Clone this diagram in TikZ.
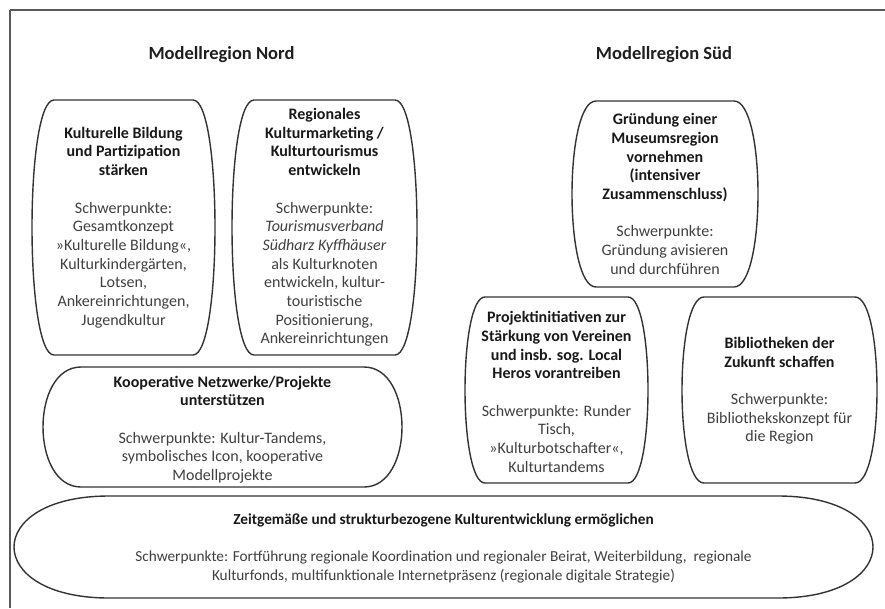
\documentclass[tikz,border=0pt]{standalone}
\usepackage{fontspec}
\setmainfont{Carlito}
\newcommand\barrelpath[5]{(#1+#5,#2) -- (#3-#5,#2) .. controls (#3+#5/3,#2) and (#3+#5/3,#4) .. (#3-#5,#4) -- (#1+#5,#4) .. controls (#1-#5/3,#4) and (#1-#5/3,#2) .. cycle}
\newcommand\tl[1]{\textbf{\textcolor{black!90}{#1}}}
\newcommand\bl[1]{\textcolor{black!75}{#1}}
\tikzset{
  boxline/.style={draw=black!80, line width=1.4pt},
  frameline/.style={draw=black!65, line width=1.3pt},
  txt/.style={align=center, inner sep=0pt, font=\fontsize{16}{18.7}\selectfont, text=black!75},
  txtwide/.style={txt, font=\fontsize{15.3}{18.7}\selectfont},
  head/.style={inner sep=0pt, font=\fontsize{18.5}{22}\selectfont\bfseries, text=black!88},
}
\begin{document}
\begin{tikzpicture}[x=1pt,y=-1pt]
\useasboundingbox (0,0) rectangle (885,608);
\fill[white] (0,0) rectangle (885,608);
% frame
\draw[frameline] (10,10) -- (885,10);
\draw[frameline] (10,10) -- (10,608);
% headings
\node[head] (hnord) at (221.5,55) {Modellregion Nord};
\node[head] (hsued) at (664,55) {Modellregion Süd};
% shapes
\draw[boxline] \barrelpath{32}{100}{215}{355}{22};
\draw[boxline] \barrelpath{232}{100}{417}{355}{22};
\draw[boxline] \barrelpath{43}{367}{402}{487}{38};
\draw[boxline] \barrelpath{572}{101}{758}{287}{24};
\draw[boxline] \barrelpath{465}{297}{648}{483}{20};
\draw[boxline] \barrelpath{682}{297}{877}{483}{22};
\draw[boxline] \barrelpath{14}{496}{873}{598}{95};
% texts
\node[txt] (kb) at (123.5,227.5) {\tl{Kulturelle Bildung}\\\tl{und Partizipation}\\\tl{stärken}\\[18.7pt]
\bl{Schwerpunkte:}\\\bl{Gesamtkonzept}\\\bl{»Kulturelle Bildung«,}\\\bl{Kulturkindergärten,}\\\bl{Lotsen,}\\\bl{Ankereinrichtungen,}\\\bl{Jugendkultur}};
\node[txt] (rk) at (324.5,227.5) {\tl{Regionales}\\\tl{Kulturmarketing /}\\\tl{Kulturtourismus}\\\tl{entwickeln}\\[18.7pt]
\bl{Schwerpunkte:}\\\bl{\textit{Tourismusverband}}\\\bl{\textit{Südharz Kyffhäuser}}\\\bl{als Kulturknoten}\\\bl{entwickeln, kultur-}\\\bl{touristische}\\\bl{Positionierung,}\\\bl{Ankereinrichtungen}};
\node[txt] (kn) at (222.5,429.5) {\tl{Kooperative Netzwerke/Projekte}\\\tl{unterstützen}\\[18.7pt]
\bl{Schwerpunkte: Kultur-Tandems,}\\\bl{symbolisches Icon, kooperative}\\\bl{Modellprojekte}};
\node[txt] (gm) at (665,194) {\tl{Gründung einer}\\\tl{Museumsregion}\\\tl{vornehmen}\\\tl{(intensiver}\\\tl{Zusammenschluss)}\\[18.7pt]
\bl{Schwerpunkte:}\\\bl{Gründung avisieren}\\\bl{und durchführen}};
\node[txt] (pi) at (556.5,392) {\tl{Projektinitiativen zur}\\\tl{Stärkung von Vereinen}\\\tl{und insb. sog. Local}\\\tl{Heros vorantreiben}\\[18.7pt]
\bl{Schwerpunkte: Runder}\\\bl{Tisch,}\\\bl{»Kulturbotschafter«,}\\\bl{Kulturtandems}};
\node[txt] (bz) at (779.5,391) {\tl{Bibliotheken der}\\\tl{Zukunft schaffen}\\[18.7pt]
\bl{Schwerpunkte:}\\\bl{Bibliothekskonzept für}\\\bl{die Region}};
\node[txtwide] (zk) at (443.5,548.5) {\tl{Zeitgemäße und strukturbezogene Kulturentwicklung ermöglichen}\\[18.7pt]
\bl{Schwerpunkte: Fortführung regionale Koordination und regionaler Beirat, Weiterbildung,~ regionale}\\\bl{Kulturfonds, multifunktionale Internetpräsenz (regionale digitale Strategie)}};
\end{tikzpicture}
\end{document}
